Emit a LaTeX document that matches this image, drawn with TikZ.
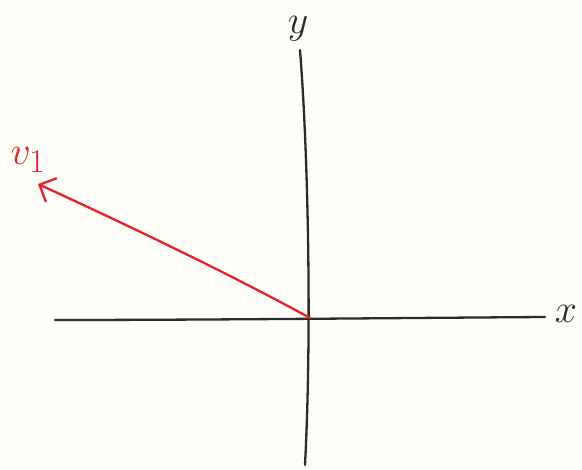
\documentclass[tikz,border=0pt]{standalone}
\usepackage{graphicx}
\usetikzlibrary{arrows.meta}
\definecolor{paper}{HTML}{FFFEF8}
\definecolor{pen}{HTML}{2B2B2B}
\definecolor{redpen}{HTML}{E8202A}
\newcommand{\biglbl}[1]{\scalebox{1.6}{\Huge #1}}
\begin{document}
\begin{tikzpicture}[x=1pt,y=-1pt,
  axis/.style={draw=pen,line width=2.3pt,line cap=round},
  vec/.style={draw=redpen,line width=2.3pt,line cap=round,-{Straight Barb[length=13pt,width=26pt,line width=2.3pt]}},
  lbl/.style={inner sep=0pt}]
\fill[paper] (0,0) rectangle (582,470);
\useasboundingbox (0,0) rectangle (582,470);
\coordinate (O) at (310,318);
\coordinate (xl) at (55,320);
\coordinate (xr) at (545,317);
\coordinate (yt) at (300,50);
\coordinate (yb) at (305,465);
\coordinate (v1) at (38,184);
\draw[axis] (xl) .. controls (200,320) and (400,318) .. (xr);
\draw[axis] (yt) .. controls (308,150) and (312,330) .. (yb);
\draw[vec] (O) .. controls (250,285) and (160,240) .. (v1);
\node[lbl,text=redpen] (lv) at (28,160) {\biglbl{$v_1$}};
\node[lbl,text=pen] (ly) at (298,29) {\biglbl{$y$}};
\node[lbl,text=pen] (lx) at (566,314) {\biglbl{$x$}};
\end{tikzpicture}
\end{document}
